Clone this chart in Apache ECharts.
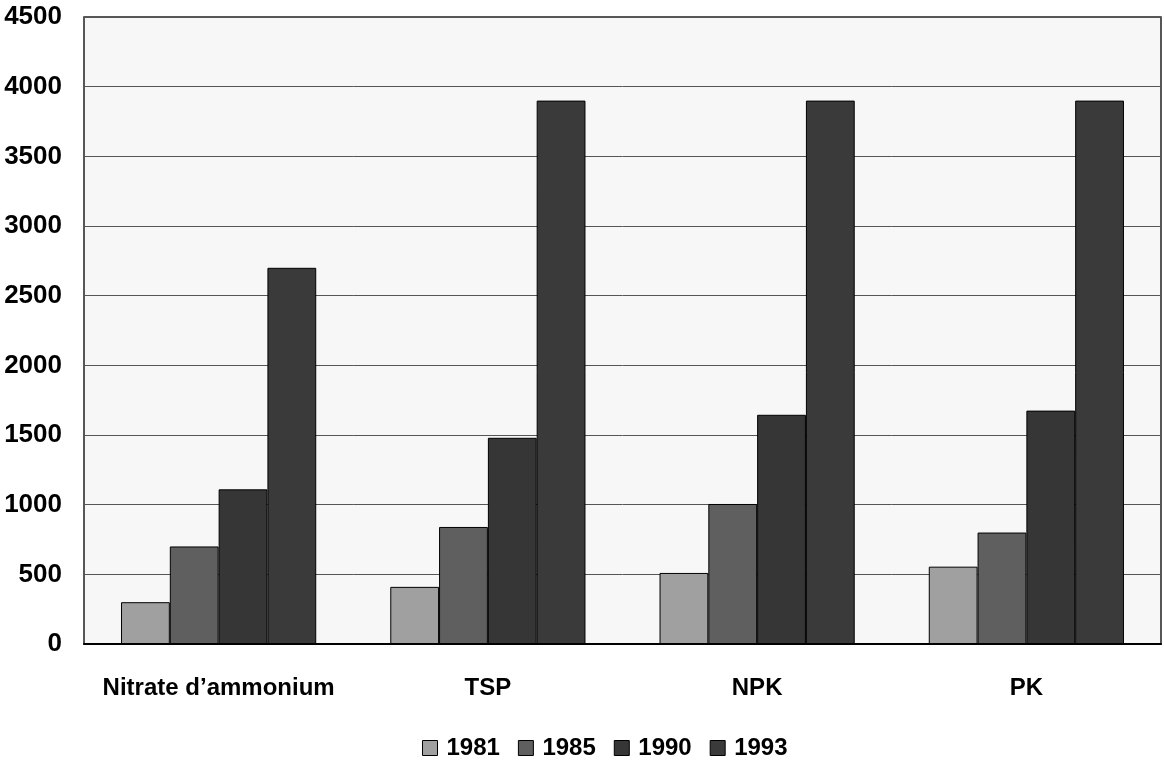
<!DOCTYPE html>
<html>
<head>
<meta charset="utf-8">
<script src="https://cdn.jsdelivr.net/npm/echarts@6/dist/echarts.min.js"></script>
<style>
html,body{margin:0;padding:0;background:#fff;}
#chart{width:1164px;height:763px;}
</style>
</head>
<body>
<div id="chart"></div>
<script>
const categories = ["Nitrate d\u2019ammonium", "TSP", "NPK", "PK"];
const years = ["1981", "1985", "1990", "1993"];
const v1981 = [300, 410, 510, 555];
const v1985 = [700, 840, 1005, 800];
const v1990 = [1110, 1480, 1645, 1675];
const v1993 = [2700, 3900, 3900, 3900];
const colors = ["#a0a0a0", "#5f5f5f", "#363636", "#3a3a3a"];
const yMin = 0, yMax = 4500, yStep = 500;

const seriesValues = [v1981, v1985, v1990, v1993];
const FONT = 'Liberation Sans, Arial, sans-serif';
const chart = echarts.init(document.getElementById('chart'));
chart.setOption({
  animation: false,
  backgroundColor: '#ffffff',
  textStyle: { fontFamily: FONT },
  grid: {
    left: 84, right: 3, top: 17, bottom: 119,
    containLabel: false, outerBoundsMode: 'none',
    show: true, backgroundColor: '#f7f7f7', borderColor: '#222', borderWidth: 1.5
  },
  legend: {
    data: years,
    left: 422, top: 736, padding: 0,
    itemWidth: 15, itemHeight: 15, itemGap: 18,
    icon: 'rect',
    itemStyle: { borderColor: '#000', borderWidth: 1 },
    textStyle: { fontFamily: FONT, fontWeight: 'bold', fontSize: 24, color: '#000', padding: [0, 0, 0, 4] }
  },
  xAxis: {
    type: 'category',
    data: categories,
    axisLine: { show: true, lineStyle: { color: '#000', width: 2 } },
    axisTick: { show: false },
    axisLabel: { interval: 0, margin: 32, fontFamily: FONT, fontWeight: 'bold', fontSize: 24, color: '#000' }
  },
  yAxis: {
    type: 'value',
    min: yMin, max: yMax, interval: yStep,
    axisLine: { show: false },
    axisTick: { show: false },
    splitLine: { show: true, lineStyle: { color: '#555', width: 1 } },
    axisLabel: { margin: 22, formatter: v => String(v), fontFamily: FONT, fontWeight: 'bold', fontSize: 26, color: '#000' }
  },
  series: years.map((y, i) => ({
    name: y,
    type: 'bar',
    data: seriesValues[i],
    barGap: '0%',
    barCategoryGap: '27.5%',
    itemStyle: { color: colors[i], borderColor: '#000', borderWidth: 1 }
  }))
});
</script>
</body>
</html>
